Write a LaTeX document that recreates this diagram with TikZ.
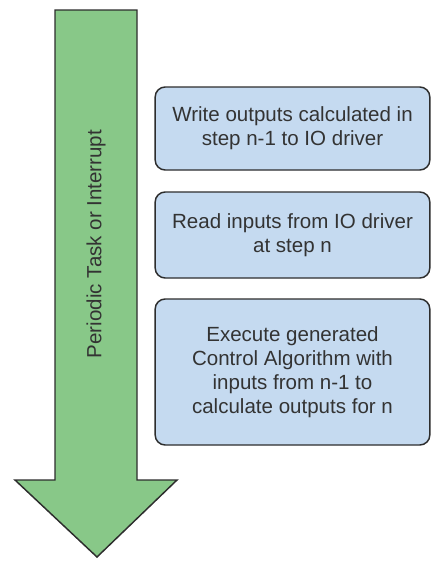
\documentclass[tikz,border=0pt]{standalone}
\usepackage{fontspec}
\setmainfont{Liberation Sans}
\usepackage{xcolor}
\usetikzlibrary{positioning}
\definecolor{taskgreen}{RGB}{136,200,136}
\definecolor{stepblue}{RGB}{197,218,240}
\definecolor{edgegray}{RGB}{45,45,45}
\tikzset{
  stepbox/.style={draw=edgegray, line width=1.1pt, fill=stepblue, rounded corners=7.5pt,
    minimum width=206pt, align=center, inner sep=0pt,
    font=\fontsize{15.4}{18}\selectfont, text=black!80},
  bigarrow/.style={draw=edgegray, line width=1.1pt, fill=taskgreen, line join=miter}
}
\begin{document}
\begin{tikzpicture}[x=0.75pt, y=-0.75pt]
  \useasboundingbox (0,0) rectangle (433,561);
  % Task arrow
  \draw[bigarrow] (55,10) -- (137,10) -- (137,480) -- (177,480) -- (97,557)
    -- (15,480) -- (55,480) -- cycle;
  \node[rotate=90, font=\fontsize{15.4}{18}\selectfont, text=black!80] (task) at (96,244)
    {Periodic Task or Interrupt};
  % Steps
  \foreach \n/\y/\h/\txt in {
      write/128.5/62.25pt/{Write outputs calculated in\\step n-1 to IO driver},
      read/235/64.5pt/{Read inputs from IO driver\\at step n},
      exec/372/109.5pt/{Execute generated\\Control Algorithm with\\inputs from n-1 to\\calculate outputs for n}}{
    \node[stepbox, minimum height=\h] (\n) at (292.5,\y) {\txt};
  }
\end{tikzpicture}
\end{document}
